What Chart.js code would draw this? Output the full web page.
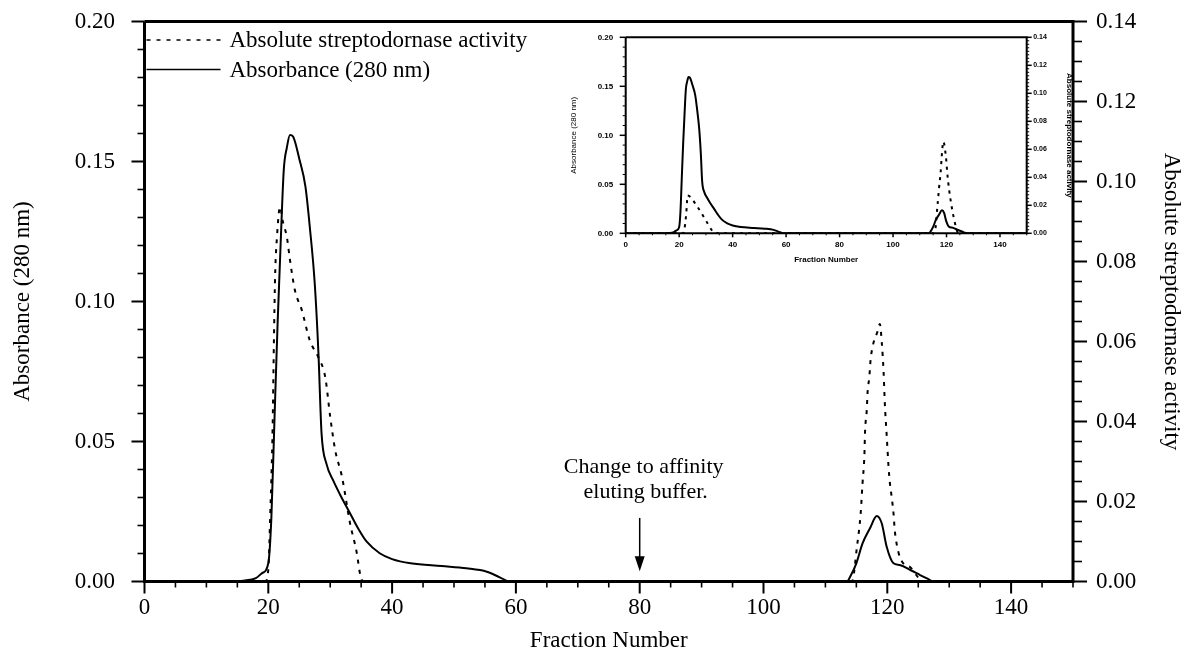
<!DOCTYPE html>
<html><head><meta charset="utf-8">
<script src="https://cdn.jsdelivr.net/npm/chart.js@4.4.1/dist/chart.umd.min.js"></script>
<style>
html,body{margin:0;padding:0;background:#fff;}
#wrap{position:relative;width:1185px;height:655px;overflow:hidden;background:#fff;}
#main{position:absolute;left:0;top:0;}
#inset{position:absolute;left:560px;top:28px;}
</style></head><body>
<div id="wrap"><canvas id="main" width="1185" height="655"></canvas><canvas id="inset" width="520" height="250"></canvas></div>
<script>
// ---- data ----
const absFractions = [0, 14, 16, 18, 19, 20, 20.5, 21, 21.5, 22, 22.5, 23, 23.5, 24, 25, 26, 26.7, 27.5, 28.1, 28.6, 29.4, 30.5, 31.6, 33.2, 34.5, 35.9, 38, 40, 43, 48, 52, 55.3, 57.4, 59, 113.5, 114, 115, 116, 117.2, 118.3, 119.1, 119.9, 121, 122, 123.7, 125.3, 126.5, 127.5, 150];
const absorbance = [0, 0, 0.0003, 0.0012, 0.003, 0.0065, 0.023, 0.058, 0.092, 0.121, 0.147, 0.155, 0.1595, 0.1589, 0.151, 0.141, 0.1267, 0.1065, 0.0815, 0.053, 0.042, 0.036, 0.031, 0.0244, 0.019, 0.0142, 0.0101, 0.008, 0.0065, 0.0055, 0.0047, 0.0035, 0.0015, 0, 0, 0.0017, 0.0065, 0.0136, 0.019, 0.0234, 0.0208, 0.0124, 0.0065, 0.0059, 0.0041, 0.0023, 0.001, 0, 0];

const actFractions = [0, 19.5, 20.0, 20.3, 20.7, 20.9, 21.1, 21.4, 21.9, 22.3, 23.0, 23.5, 24.3, 25.4, 26.7, 28.1, 29.2, 30.0, 30.8, 31.9, 33.2, 34.3, 34.8, 35.3, 114.3, 115.1, 115.7, 116.0, 116.3, 116.4, 116.7, 116.8, 117.1, 117.3, 117.7, 118.4, 118.8, 119.1, 119.4, 119.6, 119.9, 120.2, 120.4, 120.7, 121.0, 121.2, 121.5, 122.1, 123.9, 125, 126, 150];
const activity = [0, 0, 0.003, 0.016, 0.0387, 0.0595, 0.0763, 0.0861, 0.0937, 0.0903, 0.0861, 0.0804, 0.0728, 0.0679, 0.0603, 0.056, 0.0511, 0.0412, 0.0329, 0.0262, 0.0146, 0.0071, 0.0021, 0, 0, 0.0087, 0.0171, 0.0246, 0.0316, 0.0373, 0.0433, 0.047, 0.0512, 0.0554, 0.0592, 0.0624, 0.0644, 0.0599, 0.0524, 0.0445, 0.0366, 0.0287, 0.0249, 0.0212, 0.0171, 0.0129, 0.0095, 0.0058, 0.0033, 0.001, 0, 0];

const insetActFractions = [0, 21.5, 22.2, 22.8, 23.1, 26.8, 29.9, 32.5, 33.5, 115.5, 116.7, 117.2, 117.8, 118.2, 118.8, 119.8, 120.3, 121.0, 122.9, 124.5, 150];
const insetActivity = [0, 0, 0.006, 0.018, 0.027, 0.019, 0.0095, 0.0014, 0, 0, 0.0214, 0.0322, 0.0433, 0.0546, 0.0655, 0.0543, 0.0428, 0.0308, 0.0095, 0, 0];

const xTicks = [0, 20, 40, 60, 80, 100, 120, 140];
const leftTicks = [0, 0.05, 0.10, 0.15, 0.20];
const rightTicks = [0, 0.02, 0.04, 0.06, 0.08, 0.10, 0.12, 0.14];

const seriesNames = ['Absolute streptodornase activity', 'Absorbance (280 nm)'];
const xTitle = 'Fraction Number';
const leftTitle = 'Absorbance (280 nm)';
const rightTitle = 'Absolute streptodornase activity';
const annotationLines = ['Change to affinity', 'eluting buffer.'];
const annotationFraction = 80;

// ---- helpers ----
const SERIF = "'Liberation Serif','Times New Roman',serif";
const SANS = "'Liberation Sans',Arial,sans-serif";
const pts = (xs, ys) => xs.map((x, i) => ({x: x, y: ys[i]}));
const setTicks = arr => (s => { s.ticks = arr.map(v => ({value: v})); });
const fixSize = (prop, val) => (s => {
  s[prop] = val;
  s.paddingTop = 0; s.paddingBottom = 0; s.paddingLeft = 0; s.paddingRight = 0;
});

function drawAxisTicks(ctx, scale, area, side, minorStep, ratio, majorLen, minorLen, majorW, minorW) {
  const n = Math.round((scale.max - scale.min) / minorStep);
  for (let i = 0; i <= n; i++) {
    const v = scale.min + i * minorStep;
    const p = scale.getPixelForValue(v);
    const major = i % ratio === 0;
    const len = major ? majorLen : minorLen;
    ctx.lineWidth = major ? majorW : minorW;
    ctx.beginPath();
    if (side === 'bottom') { ctx.moveTo(p, area.bottom); ctx.lineTo(p, area.bottom + len); }
    else if (side === 'left') { ctx.moveTo(area.left, p); ctx.lineTo(area.left - len, p); }
    else { ctx.moveTo(area.right, p); ctx.lineTo(area.right + len, p); }
    ctx.stroke();
  }
}

function framePlugin(cfg) {
  return {
    id: 'frame',
    afterDraw(chart) {
      const ctx = chart.ctx, a = chart.chartArea;
      ctx.save();
      ctx.strokeStyle = '#000';
      ctx.lineCap = 'butt';
      ctx.lineWidth = cfg.frameW;
      ctx.beginPath();
      ctx.moveTo(a.left, a.top); ctx.lineTo(a.right, a.top);
      ctx.moveTo(a.left, a.top); ctx.lineTo(a.left, a.bottom);
      ctx.moveTo(a.left - cfg.frameW / 2, a.bottom); ctx.lineTo(a.right + cfg.frameW / 2, a.bottom);
      ctx.moveTo(a.right, a.top - cfg.frameW / 2); ctx.lineTo(a.right, a.bottom);
      ctx.stroke();
      const s = chart.scales;
      drawAxisTicks(ctx, s.x, a, 'bottom', 5, 4, cfg.xMaj, cfg.xMin, cfg.majW, cfg.minW);
      drawAxisTicks(ctx, s.yL, a, 'left', 0.01, 5, cfg.lMaj, cfg.lMin, cfg.majW, cfg.minW);
      drawAxisTicks(ctx, s.yR, a, 'right', cfg.rStep, cfg.rRatio, cfg.rMaj, cfg.rMin, cfg.majW, cfg.minW);
      ctx.restore();
    }
  };
}

const legendPlugin = {
  id: 'legendInside',
  afterDraw(chart) {
    const ctx = chart.ctx, a = chart.chartArea;
    ctx.save();
    const rows = [40, 69.5];
    chart.data.datasets.forEach((ds, i) => {
      const y = rows[i];
      ctx.strokeStyle = ds.borderColor;
      ctx.lineWidth = 1.6;
      ctx.setLineDash(ds.borderDash || []);
      ctx.beginPath();
      ctx.moveTo(a.left + 2, y); ctx.lineTo(a.left + 76, y);
      ctx.stroke();
      ctx.setLineDash([]);
      ctx.fillStyle = '#000';
      ctx.font = '23px ' + SERIF;
      ctx.textBaseline = 'middle';
      ctx.textAlign = 'left';
      ctx.fillText(ds.label, a.left + 85, y + 1);
    });
    ctx.restore();
  }
};

const annotationPlugin = {
  id: 'arrowNote',
  afterDraw(chart) {
    const ctx = chart.ctx, xs = chart.scales.x, ys = chart.scales.yL;
    const x = xs.getPixelForValue(annotationFraction);
    ctx.save();
    ctx.fillStyle = '#000';
    ctx.strokeStyle = '#000';
    ctx.font = '22px ' + SERIF;
    ctx.textAlign = 'center';
    ctx.textBaseline = 'middle';
    ctx.fillText(annotationLines[0], x + 4, ys.getPixelForValue(0.0408));
    ctx.fillText(annotationLines[1], x + 6, ys.getPixelForValue(0.0318));
    const yTop = ys.getPixelForValue(0.0227), yTip = ys.getPixelForValue(0.0037);
    ctx.lineWidth = 1.5;
    ctx.beginPath(); ctx.moveTo(x, yTop); ctx.lineTo(x, yTip - 12); ctx.stroke();
    ctx.beginPath();
    ctx.moveTo(x - 5, yTip - 15); ctx.lineTo(x + 5, yTip - 15); ctx.lineTo(x, yTip); ctx.closePath();
    ctx.fill();
    ctx.restore();
  }
};

// ---- main chart ----
const mainFont = {family: SERIF, size: 23};
new Chart(document.getElementById('main'), {
  type: 'line',
  data: {
    datasets: [
      {label: seriesNames[0], data: pts(actFractions, activity), yAxisID: 'yR',
       borderColor: '#000', borderWidth: 2, borderDash: [4, 6], pointRadius: 0,
       cubicInterpolationMode: 'monotone', fill: false},
      {label: seriesNames[1], data: pts(absFractions, absorbance), yAxisID: 'yL',
       borderColor: '#000', borderWidth: 2, pointRadius: 0,
       cubicInterpolationMode: 'monotone', fill: false}
    ]
  },
  options: {
    responsive: false, animation: false, devicePixelRatio: 1,
    layout: {padding: {top: 21.5, left: 0, right: 0, bottom: 0}},
    plugins: {legend: {display: false}, tooltip: {enabled: false}},
    scales: {
      x: {type: 'linear', position: 'bottom', min: 0, max: 150,
          afterBuildTicks: setTicks(xTicks), afterFit: fixSize('height', 73.5),
          grid: {display: false, drawTicks: false}, border: {display: false},
          ticks: {padding: 13, font: mainFont, color: '#000', maxRotation: 0, autoSkip: false,
                  callback: v => String(v)},
          title: {display: true, text: xTitle, font: mainFont, color: '#000', padding: {top: 0, bottom: 0}}},
      yL: {type: 'linear', position: 'left', min: 0, max: 0.2,
           afterBuildTicks: setTicks(leftTicks), afterFit: fixSize('width', 144.5),
           grid: {display: false, drawTicks: false}, border: {display: false},
           ticks: {padding: 29.5, font: mainFont, color: '#000', callback: v => v.toFixed(2)},
           title: {display: true, text: leftTitle, font: mainFont, color: '#000', padding: {top: 9, bottom: 0}}},
      yR: {type: 'linear', position: 'right', min: 0, max: 0.14,
           afterBuildTicks: setTicks(rightTicks), afterFit: fixSize('width', 112),
           grid: {display: false, drawTicks: false}, border: {display: false},
           ticks: {padding: 23, font: mainFont, color: '#000', callback: v => v.toFixed(2)},
           title: {display: true, text: rightTitle, font: mainFont, color: '#000', padding: {top: 0, bottom: 0}}}
    }
  },
  plugins: [framePlugin({frameW: 3, xMaj: 12, xMin: 6, lMaj: 13, lMin: 7, rStep: 0.005, rRatio: 4, rMaj: 14, rMin: 9, majW: 2, minW: 1.6}),
            legendPlugin, annotationPlugin]
});

// ---- inset chart ----
const insetTickFont = {family: SANS, size: 8, weight: 'bold'};
const insetTitleFont = {family: SANS, size: 8};
new Chart(document.getElementById('inset'), {
  type: 'line',
  data: {
    datasets: [
      {label: seriesNames[0], data: pts(insetActFractions, insetActivity), yAxisID: 'yR',
       borderColor: '#000', borderWidth: 2, borderDash: [3, 5], pointRadius: 0,
       cubicInterpolationMode: 'monotone', fill: false},
      {label: seriesNames[1], data: pts(absFractions, absorbance), yAxisID: 'yL',
       borderColor: '#000', borderWidth: 2, pointRadius: 0,
       cubicInterpolationMode: 'monotone', fill: false}
    ]
  },
  options: {
    responsive: false, animation: false, devicePixelRatio: 1,
    layout: {padding: {top: 9.3, left: 0, right: 0, bottom: 0}},
    plugins: {legend: {display: false}, tooltip: {enabled: false}},
    scales: {
      x: {type: 'linear', position: 'bottom', min: 0, max: 150,
          afterBuildTicks: setTicks(xTicks), afterFit: fixSize('height', 44.7),
          grid: {display: false, drawTicks: false}, border: {display: false},
          ticks: {padding: 7, font: insetTickFont, color: '#000', maxRotation: 0, autoSkip: false,
                  callback: v => String(v)},
          title: {display: true, text: xTitle, font: {family: SANS, size: 8, weight: 'bold'}, color: '#000', padding: {top: 0, bottom: 13}}},
      yL: {type: 'linear', position: 'left', min: 0, max: 0.2,
           afterBuildTicks: setTicks(leftTicks), afterFit: fixSize('width', 65.7),
           grid: {display: false, drawTicks: false}, border: {display: false},
           ticks: {padding: 12.5, font: insetTickFont, color: '#000', callback: v => v.toFixed(2)},
           title: {display: true, text: leftTitle, font: insetTitleFont, color: '#000', padding: {top: 8.5, bottom: 0}}},
      yR: {type: 'linear', position: 'right', min: 0, max: 0.14,
           afterBuildTicks: setTicks(rightTicks), afterFit: fixSize('width', 53.3),
           grid: {display: false, drawTicks: false}, border: {display: false},
           ticks: {padding: 6.5, font: {family: SANS, size: 7, weight: 'bold'}, color: '#000', callback: v => v.toFixed(2)},
           title: {display: true, text: rightTitle, font: {family: SANS, size: 8, weight: 'bold'}, color: '#000', padding: {top: 6, bottom: 0}}}
    }
  },
  plugins: [framePlugin({frameW: 2, xMaj: 4, xMin: 2, lMaj: 6, lMin: 3, rStep: 0.0025, rRatio: 8, rMaj: 5, rMin: 2.5, majW: 1.5, minW: 1})]
});
</script>
</body></html>
